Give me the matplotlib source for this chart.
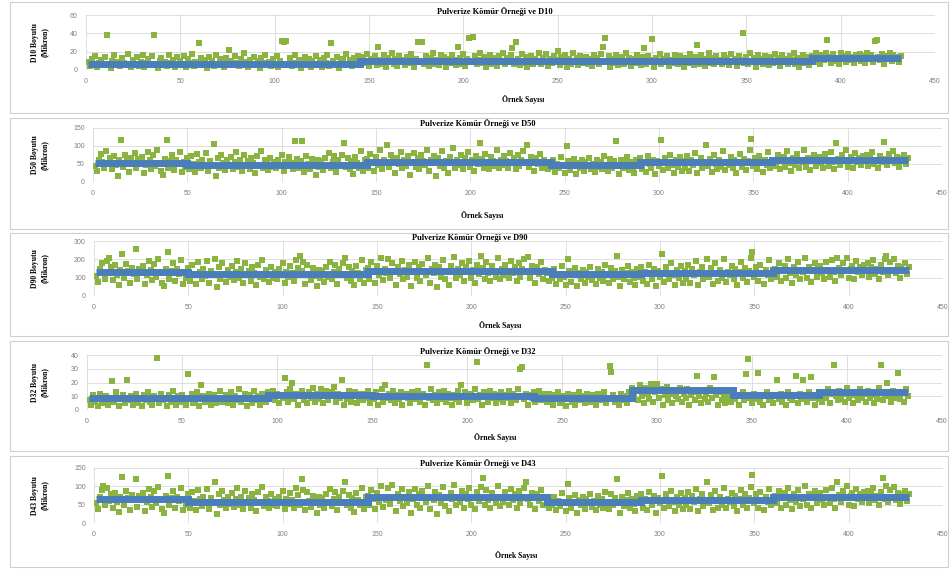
import numpy as np
import matplotlib
matplotlib.use("Agg")
import matplotlib.pyplot as plt
from matplotlib.patches import Rectangle

GREEN, BLUE = "#8AB43F", "#4A7EBB"
GRID = "#D9D9D9"

# measured sizes per sample (green points), sample number = position + 1
d10 = [
    9, 4, 12, 6, 15, 3, 8, 11, 5, 14, 38, 7, 2, 10, 16, 6, 9, 4, 13, 8, 5, 17, 7, 3,
    11, 6, 14, 4, 9, 16, 3, 8, 12, 5, 15, 38, 7, 2, 10, 13, 6, 9, 4, 16, 8, 11, 3, 14,
    5, 10, 7, 15, 3, 12, 8, 17, 4, 9, 6, 29, 13, 5, 11, 2, 14, 7, 10, 4, 16, 6, 12, 8,
    3, 13, 7, 22, 10, 5, 15, 8, 4, 12, 6, 18, 9, 3, 11, 7, 14, 5, 10, 2, 13, 8, 16, 6,
    9, 4, 12, 7, 15, 3, 10, 32, 31, 32, 6, 13, 4, 8, 16, 5, 11, 2, 9, 14, 6, 12, 3, 10,
    7, 15, 5, 11, 3, 13, 8, 16, 4, 29, 10, 6, 14, 2, 9, 12, 5, 17, 7, 11, 4, 13, 8, 15,
    10, 6, 14, 8, 17, 4, 12, 9, 15, 5, 25, 11, 7, 16, 3, 13, 10, 18, 6, 12, 4, 15, 9, 11,
    5, 14, 8, 17, 11, 3, 12, 30, 9, 31, 6, 15, 10, 4, 13, 18, 7, 11, 5, 16, 9, 14, 3, 12,
    8, 16, 11, 5, 25, 13, 7, 17, 4, 12, 35, 9, 36, 15, 6, 11, 18, 8, 14, 3, 10, 16, 7, 13,
    11, 4, 15, 9, 18, 6, 13, 10, 16, 24, 7, 31, 12, 5, 17, 8, 14, 3, 11, 15, 6, 12, 9, 18,
    6, 13, 10, 17, 4, 12, 8, 15, 11, 21, 5, 14, 9, 16, 3, 12, 7, 18, 10, 13, 5, 15, 8, 11,
    14, 7, 12, 4, 16, 9, 13, 6, 17, 25, 35, 10, 15, 3, 12, 8, 16, 5, 11, 14, 7, 18, 9, 13,
    4, 12, 8, 16, 10, 5, 14, 24, 7, 15, 11, 34, 3, 13, 9, 17, 6, 12, 10, 15, 4, 11, 8, 16,
    12, 6, 15, 9, 3, 13, 8, 17, 11, 5, 14, 27, 7, 16, 10, 4, 12, 18, 8, 13, 6, 15, 9, 11,
    7, 16, 10, 13, 5, 17, 9, 12, 4, 15, 11, 40, 8, 14, 6, 18, 10, 13, 3, 16, 9, 12, 7, 15,
    11, 5, 14, 8, 17, 10, 13, 4, 16, 9, 12, 6, 15, 11, 18, 7, 13, 3, 10, 16, 8, 14, 5, 12,
    15, 9, 18, 12, 7, 16, 11, 19, 33, 14, 8, 17, 10, 13, 6, 18, 12, 15, 9, 17, 11, 14, 8, 16,
    13, 17, 10, 15, 8, 18, 12, 16, 9, 32, 33, 14, 11, 17, 7, 15, 13, 19, 10, 16, 12, 14, 9, 15,
]
d50 = [
    45, 30, 62, 78, 55, 40, 85, 50, 68, 35, 72, 48, 18, 60, 117, 42, 75, 58, 28, 66, 52, 80, 38, 63,
    55, 70, 25, 48, 82, 60, 36, 74, 45, 88, 52, 30, 20, 65, 117, 40, 58, 76, 33, 62, 50, 84, 28, 56,
    42, 66, 35, 72, 50, 28, 78, 55, 38, 62, 45, 80, 30, 58, 48, 105, 18, 68, 40, 75, 52, 32, 60, 44,
    70, 36, 55, 82, 42, 62, 30, 75, 48, 58, 35, 68, 52, 25, 72, 45, 85, 38, 60, 50, 32, 66, 42, 55,
    38, 62, 48, 75, 30, 56, 44, 70, 52, 35, 114, 65, 40, 58, 114, 28, 72, 50, 36, 64, 46, 20, 60, 42,
    58, 32, 68, 45, 80, 38, 55, 72, 28, 62, 48, 75, 109, 42, 66, 35, 58, 22, 70, 52, 40, 85, 30, 60,
    65, 40, 78, 55, 30, 70, 48, 88, 36, 62, 52, 102, 42, 75, 58, 25, 68, 50, 82, 38, 60, 45, 72, 20,
    55, 80, 42, 68, 35, 75, 58, 48, 90, 30, 62, 52, 72, 18, 66, 45, 85, 38, 58, 25, 70, 55, 95, 40,
    62, 48, 75, 35, 68, 55, 82, 42, 60, 30, 72, 50, 108, 65, 40, 78, 52, 35, 70, 58, 45, 88, 38, 62,
    48, 72, 58, 40, 80, 52, 66, 35, 75, 45, 62, 85, 55, 104, 42, 70, 58, 30, 68, 50, 78, 40, 60, 52,
    35, 55, 42, 62, 28, 50, 38, 70, 45, 25, 99, 58, 32, 48, 65, 22, 52, 40, 60, 30, 55, 45, 68, 36,
    50, 28, 62, 42, 55, 35, 72, 48, 30, 65, 40, 58, 113, 45, 22, 60, 38, 52, 70, 32, 55, 42, 25, 62,
    45, 68, 35, 55, 28, 72, 50, 40, 62, 22, 58, 45, 117, 32, 66, 52, 38, 75, 48, 25, 60, 42, 70, 30,
    58, 40, 72, 30, 62, 48, 80, 25, 55, 68, 38, 52, 102, 45, 65, 28, 75, 50, 35, 60, 42, 85, 32, 55,
    48, 70, 38, 62, 25, 55, 78, 42, 65, 32, 58, 90, 120, 45, 68, 35, 72, 52, 28, 60, 48, 82, 40, 55,
    62, 45, 75, 35, 58, 70, 42, 85, 52, 30, 66, 48, 78, 38, 60, 55, 88, 42, 68, 32, 58, 75, 45, 62,
    70, 52, 40, 78, 60, 45, 82, 55, 35, 108, 65, 48, 75, 58, 88, 42, 62, 70, 38, 80, 55, 68, 48, 72,
    58, 75, 45, 68, 82, 50, 62, 40, 72, 55, 110, 65, 48, 78, 60, 85, 52, 70, 42, 66, 58, 75, 50, 68,
]
d90 = [
    110, 75, 150, 180, 125, 95, 190, 205, 160, 85, 170, 115, 60, 140, 230, 100, 175, 135, 70, 155, 120, 255, 90, 145,
    130, 165, 65, 115, 190, 140, 85, 175, 105, 200, 125, 72, 55, 150, 240, 95, 135, 180, 80, 145, 118, 195, 68, 130,
    100, 155, 82, 170, 120, 68, 185, 130, 90, 148, 108, 190, 72, 138, 112, 200, 50, 160, 95, 178, 122, 76, 142, 104,
    165, 85, 130, 192, 100, 148, 70, 178, 115, 138, 82, 160, 124, 60, 170, 106, 198, 90, 142, 118, 75, 156, 100, 130,
    90, 148, 114, 178, 72, 132, 104, 166, 124, 84, 196, 154, 218, 138, 188, 66, 170, 118, 86, 152, 110, 55, 142, 100,
    138, 76, 160, 106, 188, 90, 130, 170, 66, 148, 114, 178, 205, 100, 156, 82, 138, 58, 166, 124, 94, 198, 72, 142,
    155, 95, 185, 130, 72, 166, 114, 206, 86, 148, 124, 200, 100, 178, 138, 62, 160, 118, 192, 90, 142, 106, 170, 55,
    130, 188, 100, 160, 84, 176, 138, 114, 210, 72, 148, 124, 170, 50, 156, 106, 198, 90, 138, 62, 166, 130, 215, 96,
    148, 114, 178, 84, 160, 130, 192, 100, 142, 72, 170, 118, 218, 154, 95, 184, 124, 84, 166, 138, 106, 206, 90, 148,
    114, 170, 138, 96, 190, 124, 156, 84, 178, 106, 148, 200, 130, 212, 100, 166, 138, 72, 160, 118, 184, 95, 142, 124,
    84, 130, 100, 148, 68, 118, 90, 166, 106, 62, 200, 138, 76, 114, 154, 55, 124, 95, 142, 72, 130, 106, 160, 86,
    118, 68, 148, 100, 130, 84, 170, 114, 72, 154, 95, 138, 218, 106, 55, 142, 90, 124, 166, 76, 130, 100, 62, 148,
    106, 160, 84, 130, 68, 170, 118, 95, 148, 55, 138, 106, 229, 76, 156, 124, 90, 178, 114, 62, 142, 100, 166, 72,
    138, 95, 170, 72, 148, 114, 190, 60, 130, 160, 90, 124, 200, 106, 154, 68, 178, 118, 84, 142, 100, 200, 76, 130,
    114, 166, 90, 148, 60, 130, 184, 100, 154, 76, 138, 210, 240, 106, 160, 84, 170, 124, 68, 142, 114, 194, 95, 130,
    148, 106, 178, 84, 138, 166, 100, 200, 124, 72, 156, 114, 184, 90, 142, 130, 206, 100, 160, 76, 138, 178, 106, 148,
    166, 124, 95, 184, 142, 106, 194, 130, 84, 210, 154, 114, 178, 138, 206, 100, 148, 166, 90, 190, 130, 160, 114, 170,
    138, 178, 106, 160, 194, 118, 148, 95, 170, 130, 200, 218, 114, 184, 142, 200, 124, 166, 100, 156, 138, 178, 118, 160,
]
d32 = [
    7, 4, 11, 6, 9, 3, 12, 5, 8, 10, 4, 7, 21, 6, 13, 9, 3, 8, 11, 5, 22, 7, 10, 4,
    9, 12, 5, 8, 3, 11, 7, 13, 6, 4, 10, 8, 38, 5, 12, 7, 9, 3, 11, 6, 14, 8, 4, 10,
    6, 11, 8, 4, 26, 9, 12, 5, 7, 13, 3, 18, 10, 6, 8, 12, 4, 9, 11, 5, 7, 14, 6, 9,
    11, 5, 8, 13, 4, 10, 7, 15, 6, 9, 12, 3, 8, 11, 5, 14, 7, 10, 4, 12, 9, 6, 13, 8,
    10, 14, 7, 12, 5, 11, 9, 23, 13, 6, 15, 20, 8, 12, 4, 10, 14, 7, 11, 5, 13, 9, 16, 6,
    12, 8, 15, 5, 11, 14, 7, 10, 13, 17, 6, 12, 9, 22, 4, 11, 8, 14, 6, 10, 13, 5, 9, 12,
    7, 12, 9, 14, 5, 11, 8, 13, 4, 10, 15, 6, 18, 9, 12, 7, 14, 5, 11, 8, 13, 4, 10, 12,
    9, 5, 13, 8, 11, 14, 6, 10, 12, 4, 33, 9, 15, 7, 11, 5, 13, 8, 10, 14, 6, 12, 9, 4,
    11, 8, 14, 6, 18, 10, 13, 5, 9, 12, 7, 15, 35, 8, 11, 4, 13, 10, 6, 14, 9, 12, 5, 11,
    8, 13, 6, 11, 9, 14, 5, 12, 10, 7, 15, 30, 31, 8, 12, 4, 11, 9, 13, 6, 10, 14, 7, 12,
    10, 6, 12, 8, 4, 11, 9, 13, 5, 7, 10, 3, 12, 8, 6, 11, 4, 9, 13, 7, 10, 5, 12, 8,
    6, 11, 9, 4, 12, 7, 10, 13, 5, 8, 32, 28, 11, 6, 9, 4, 12, 7, 10, 5, 13, 8, 16, 11,
    14, 7, 18, 10, 5, 16, 12, 8, 19, 6, 13, 19, 9, 15, 4, 11, 17, 7, 12, 5, 14, 10, 8, 16,
    6, 12, 9, 15, 4, 11, 13, 7, 25, 10, 5, 14, 8, 12, 6, 16, 9, 24, 11, 4, 13, 7, 10, 5,
    9, 12, 6, 14, 8, 11, 4, 10, 13, 7, 26, 37, 9, 5, 12, 8, 27, 6, 11, 4, 10, 13, 7, 9,
    5, 11, 22, 8, 12, 6, 10, 4, 13, 9, 7, 11, 25, 5, 12, 8, 22, 10, 6, 13, 24, 9, 4, 11,
    8, 13, 6, 11, 9, 15, 5, 12, 33, 10, 7, 14, 8, 12, 6, 16, 9, 11, 5, 13, 10, 7, 15, 9,
    12, 6, 14, 9, 11, 5, 13, 8, 16, 33, 7, 12, 20, 10, 6, 14, 9, 11, 27, 8, 13, 6, 15, 10,
]
d43 = [
    55, 38, 72, 90, 100, 48, 95, 60, 78, 42, 82, 58, 30, 70, 126, 50, 86, 68, 35, 76, 62, 121, 45, 74,
    65, 82, 32, 58, 94, 70, 44, 86, 55, 98, 62, 38, 28, 75, 129, 48, 68, 88, 40, 72, 60, 96, 35, 66,
    50, 78, 42, 84, 60, 35, 90, 65, 46, 72, 54, 92, 38, 68, 58, 113, 25, 80, 48, 86, 62, 40, 70, 52,
    82, 44, 65, 95, 50, 72, 38, 88, 58, 68, 42, 80, 62, 32, 84, 54, 98, 46, 70, 60, 40, 78, 50, 65,
    46, 72, 58, 86, 38, 66, 52, 82, 62, 42, 95, 76, 48, 121, 90, 35, 84, 60, 44, 74, 55, 28, 70, 50,
    68, 40, 80, 54, 92, 46, 65, 84, 35, 72, 58, 88, 113, 50, 76, 42, 68, 30, 82, 62, 48, 96, 38, 70,
    75, 48, 90, 65, 38, 82, 58, 100, 44, 72, 62, 95, 52, 103, 68, 32, 80, 60, 94, 46, 70, 55, 84, 28,
    65, 92, 50, 80, 42, 86, 68, 58, 102, 38, 72, 62, 84, 25, 76, 55, 98, 46, 68, 32, 82, 65, 105, 48,
    72, 58, 88, 42, 80, 65, 95, 50, 70, 38, 84, 60, 98, 123, 48, 90, 62, 42, 82, 68, 55, 100, 46, 72,
    58, 84, 68, 48, 92, 62, 78, 42, 88, 55, 72, 96, 113, 65, 50, 82, 68, 38, 80, 60, 90, 48, 70, 62,
    42, 65, 50, 72, 35, 60, 46, 82, 55, 32, 106, 68, 40, 58, 76, 28, 62, 48, 72, 38, 65, 55, 80, 44,
    60, 35, 74, 50, 65, 42, 84, 58, 38, 78, 48, 68, 121, 55, 28, 72, 46, 62, 82, 40, 66, 52, 32, 74,
    55, 80, 42, 66, 35, 84, 60, 48, 74, 28, 68, 55, 129, 40, 78, 62, 46, 88, 58, 32, 72, 50, 82, 38,
    68, 48, 84, 38, 74, 58, 92, 32, 66, 80, 46, 62, 113, 55, 76, 35, 88, 60, 42, 72, 50, 96, 40, 66,
    58, 82, 46, 74, 32, 66, 90, 50, 78, 40, 68, 98, 132, 55, 80, 42, 84, 62, 35, 72, 58, 94, 48, 66,
    74, 55, 88, 42, 68, 82, 50, 96, 62, 38, 78, 58, 90, 46, 72, 66, 100, 50, 80, 40, 68, 88, 55, 74,
    82, 62, 48, 90, 72, 55, 96, 66, 42, 113, 76, 58, 88, 70, 100, 50, 74, 82, 46, 94, 66, 80, 58, 85,
    70, 88, 55, 80, 95, 62, 74, 48, 84, 123, 66, 100, 58, 90, 72, 98, 62, 82, 52, 78, 68, 88, 60, 80,
]

# blue series: level held between sample breakpoints
d10_edges, d10_levels = [1, 145, 385, 432], [7, 9.5, 13.5]
d50_edges, d50_levels = [1, 50, 145, 243, 290, 360, 432], [53, 48, 56, 47, 55, 60]
d90_edges, d90_levels = [1, 50, 145, 243, 290, 360, 432], [130, 120, 135, 118, 128, 140]
d32_edges, d32_levels = [1, 95, 150, 235, 287, 340, 385, 432], [8.5, 11, 10, 9, 14.5, 11, 13]
d43_edges, d43_levels = [1, 50, 145, 240, 290, 360, 432], [65, 58, 70, 57, 64, 72]

names = ["D10", "D50", "D90", "D32", "D43"]
greens = [d10, d50, d90, d32, d43]
edges = [d10_edges, d50_edges, d90_edges, d32_edges, d43_edges]
levels = [d10_levels, d50_levels, d90_levels, d32_levels, d43_levels]
ymax = [60, 150, 300, 40, 150]
ystep = [20, 50, 100, 10, 50]

# layout in pixels: plot left/right, plot top/bottom, box top/bottom, title x, xlabel x/y
W, H = 952, 570
lay = [
    dict(l=86, r=935, t=15, b=70, bt=2, bb=113, tx=495, xl=(523, 100)),
    dict(l=93, r=942, t=128, b=182, bt=118, bb=229, tx=478, xl=(482, 215)),
    dict(l=94, r=943, t=241, b=296, bt=233, bb=336, tx=470, xl=(500, 325)),
    dict(l=87, r=942, t=355, b=410, bt=341, bb=451, tx=478, xl=(495, 438)),
    dict(l=94, r=943, t=468, b=523, bt=456, bb=567, tx=478, xl=(516, 556)),
]

SERIF = ["Liberation Serif", "DejaVu Serif"]
fig = plt.figure(figsize=(W / 100, H / 100), dpi=100)

for name, g, e, lv, ym, ys, L in zip(names, greens, edges, levels, ymax, ystep, lay):
    fig.patches.append(Rectangle((10 / W, 1 - L["bb"] / H), 938 / W, (L["bb"] - L["bt"]) / H,
                                 transform=fig.transFigure, fill=False, ec="#CFCFCF", lw=0.8))
    ax = fig.add_axes([L["l"] / W, 1 - L["b"] / H, (L["r"] - L["l"]) / W, (L["b"] - L["t"]) / H])
    x = np.arange(1, len(g) + 1)
    ax.scatter(x, g, marker="s", s=17, color=GREEN, lw=0, zorder=3)
    ax.stairs(lv, e, baseline=None, color=BLUE, lw=5, zorder=4)
    ax.set_xlim(0, 450); ax.set_ylim(0, ym)
    ax.set_xticks(np.arange(0, 451, 50)); ax.set_yticks(np.arange(0, ym + 1, ys))
    ax.grid(True, color=GRID, lw=0.6); ax.set_axisbelow(True)
    for s in ax.spines.values(): s.set_visible(False)
    ax.tick_params(length=0, labelsize=5, labelcolor="#7F7F7F", pad=6)
    for t in ax.get_xticklabels() + ax.get_yticklabels():
        t.set_fontfamily(["Liberation Sans", "DejaVu Sans"])
    fig.text(L["tx"] / W, 1 - (L["t"] - 4) / H, f"Pulverize Kömür Örneği ve {name}", ha="center",
             va="center", fontsize=6, fontweight="bold", family=SERIF)
    fig.text(L["xl"][0] / W, 1 - L["xl"][1] / H, "Örnek Sayısı", ha="center", va="center",
             fontsize=5.5, fontweight="bold", family=SERIF)
    fig.text(40 / W, 1 - (L["t"] + L["b"]) / 2 / H, f"{name} Boyutu\n(Mikron)", ha="center",
             va="center", rotation=90, fontsize=5.5, fontweight="bold", family=SERIF, linespacing=1.2)

fig.savefig("out.png", dpi=100)
